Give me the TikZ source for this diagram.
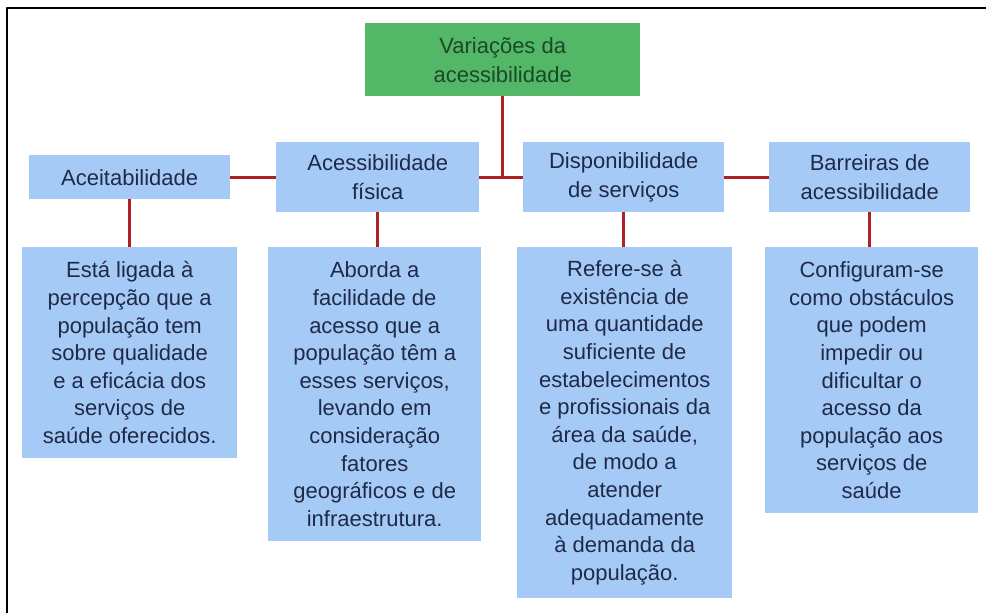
\documentclass[tikz,border=0pt]{standalone}
\usepackage{fontspec}
\setmainfont{Liberation Sans}
\definecolor{rootgreen}{RGB}{82,184,104}
\definecolor{rootink}{RGB}{28,72,40}
\definecolor{boxblue}{RGB}{166,202,246}
\definecolor{boxink}{RGB}{30,42,72}
\definecolor{linkred}{RGB}{172,32,38}
\begin{document}
\begin{tikzpicture}[x=1pt, y=-1pt, line join=round, line cap=butt]

		\tikzset{root box/.style={fill=rootgreen, text=rootink, anchor=north west, minimum width=275pt, minimum height=73pt, inner sep=0pt, align=center, font=\fontsize{22}{29}\selectfont},
			head box/.style={fill=boxblue, text=boxink, anchor=north west, inner sep=0pt, align=center, font=\fontsize{22}{29}\selectfont},
			text box/.style={fill=boxblue, text=boxink, anchor=north west, inner sep=0pt, align=center, font=\fontsize{22}{27.6}\selectfont},
			link/.style={draw=linkred, line width=3pt}}

		\useasboundingbox (0,0) rectangle (986,613);
		\draw[line width=2pt] (7,613)--(7,8)--(986,8);

		\node[root box] (root) at (365,23) {Variações da\\acessibilidade};

		\node[head box, minimum width=201pt, minimum height=44pt] (acei) at (29,155) {Aceitabilidade};
		\node[head box, minimum width=203pt, minimum height=70pt] (fis) at (276,142) {Acessibilidade\\física};
		\node[head box, minimum width=201pt, minimum height=70pt] (disp) at (523,142) {Disponibilidade\\de serviços};
		\node[head box, minimum width=201pt, minimum height=70pt] (barr) at (769,142) {Barreiras de\\acessibilidade};

		\node[text box, minimum width=215pt, minimum height=211pt] (aceitxt) at (22,247) {Está ligada à\\percepção que a\\população tem\\sobre qualidade\\e a eficácia dos\\serviços de\\saúde oferecidos.};
		\node[text box, minimum width=213pt, minimum height=294pt] (fistxt) at (268,247) {Aborda a\\facilidade de\\acesso que a\\população têm a\\esses serviços,\\levando em\\consideração\\fatores\\geográficos e de\\infraestrutura.};
		\node[text box, minimum width=215pt, minimum height=351pt] (disptxt) at (517,247) {Refere-se à\\existência de\\uma quantidade\\suficiente de\\estabelecimentos\\e profissionais da\\área da saúde,\\de modo a\\atender\\adequadamente\\à demanda da\\população.};
		\node[text box, minimum width=213pt, minimum height=266pt] (barrtxt) at (765,247) {Configuram-se\\como obstáculos\\que podem\\impedir ou\\dificultar o\\acesso da\\população aos\\serviços de\\saúde};

		\coordinate (junc) at (root.south |- fis.east);

		% ligacoes
		\draw[link] (root.south)--(junc);
		\draw[link] (fis.east)--(disp.west);
		\draw[link] (acei.east)--(fis.west);
		\draw[link] (disp.east)--(barr.west);
		\draw[link] (acei.south)--(acei.south |- aceitxt.north);
		\draw[link] (fis.south)--(fis.south |- fistxt.north);
		\draw[link] (disp.south)--(disp.south |- disptxt.north);
		\draw[link] (barr.south)--(barr.south |- barrtxt.north);
		\end{tikzpicture}
\end{document}
